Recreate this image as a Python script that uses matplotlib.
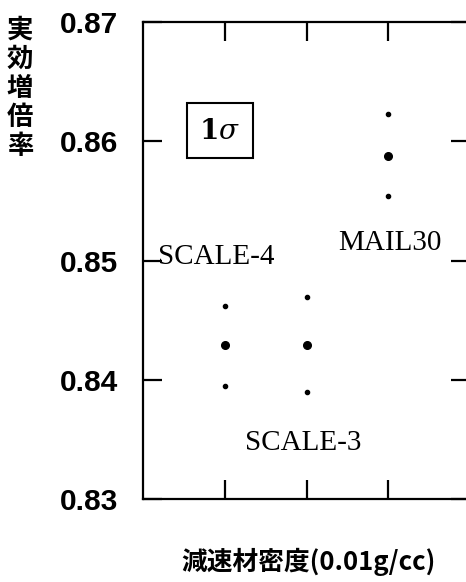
import numpy as np
import matplotlib
matplotlib.use("Agg")
import matplotlib.pyplot as plt

# data
codes = ["SCALE-4", "SCALE-3", "MAIL30"]
xpos = [1, 2, 3]
keff = [0.8429, 0.8429, 0.8588]
upper = [0.8462, 0.8469, 0.8623]
lower = [0.8395, 0.8390, 0.8554]
yticks = [0.83, 0.84, 0.85, 0.86, 0.87]

plt.rcParams['font.family'] = ['Noto Sans CJK JP', 'DejaVu Sans']

fig = plt.figure(figsize=(4.66, 5.82), dpi=100)
ax = fig.add_axes([143/466, 1 - 499/582, (470 - 143)/466, (499 - 22)/582])

ax.plot(xpos, keff, 'o', color='black', markersize=5.5, clip_on=False)
ax.plot(xpos, upper, 'o', color='black', markersize=3, clip_on=False)
ax.plot(xpos, lower, 'o', color='black', markersize=3, clip_on=False)

ax.set_xlim(0, 4)
ax.set_ylim(0.83, 0.87)
ax.set_xticks(xpos)
ax.set_xticklabels([])
ax.set_yticks(yticks)
ax.set_yticklabels([f"{v:.2f}" for v in yticks], family='Liberation Sans',
                   fontweight='bold', fontsize=21.5)

for s in ax.spines.values():
    s.set_linewidth(1.6)
ax.tick_params(axis='x', direction='in', length=14, width=1.6, top=True, bottom=True)
ax.tick_params(axis='y', direction='in', length=14, width=1.6, left=True, right=True, pad=18)

serif = dict(family='Liberation Serif', fontsize=21)
ax.text(0.18, 0.8503, codes[0], ha='left', va='center', **serif)
ax.text(1.96, 0.8347, codes[1], ha='center', va='center', **serif)
ax.text(3.02, 0.8515, codes[2], ha='center', va='center', **serif)

ax.text(0.94, 0.8609, r"$\mathbf{1}\sigma$", ha='center', va='center', fontsize=20,
        math_fontfamily='dejavuserif',
        bbox=dict(boxstyle='square,pad=0.45', facecolor='white', edgecolor='black', linewidth=1.5))

fig.text(20/466, 1 - 88/582, "実\n効\n増\n倍\n率", ha='center', va='center',
         fontsize=19, fontweight='bold', linespacing=1.1)
fig.text(308/466, 1 - 562/582, "減速材密度(0.01g/cc)", ha='center', va='center',
         fontsize=18.5, fontweight='bold')

fig.savefig("out.png", dpi=100)
